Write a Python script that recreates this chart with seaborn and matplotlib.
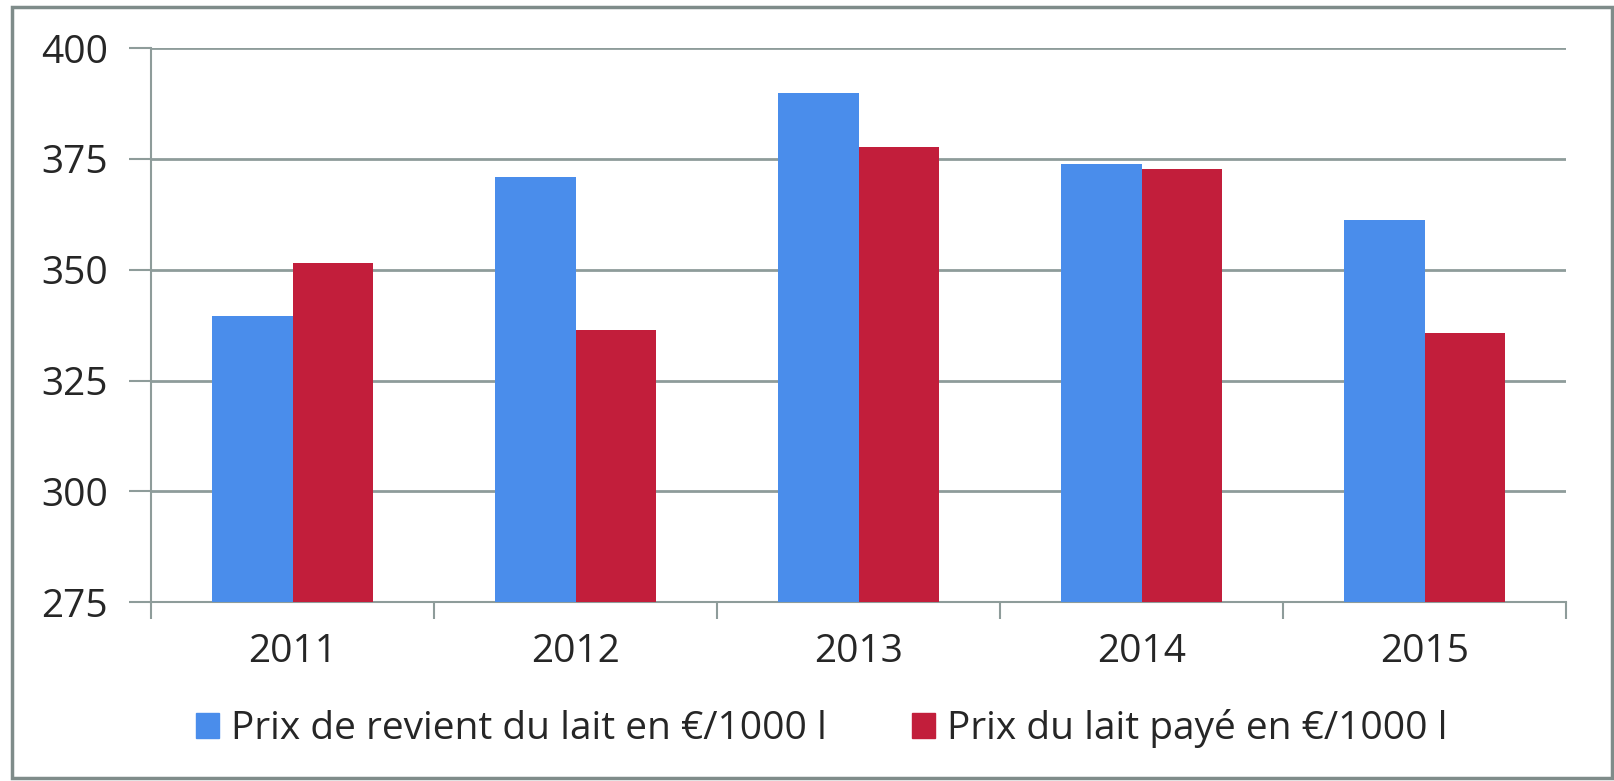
"""
Prix de revient vs prix payé du lait (2011-2015), grouped bar chart.
"""

import numpy as np
import pandas as pd
import matplotlib.pyplot as plt
import matplotlib.patches as mpatches
import seaborn as sns


years   = ["2011", "2012", "2013", "2014", "2015"]
revient = [339.5, 371.0, 389.8, 373.9, 361.2]
paye    = [351.5, 336.5, 377.7, 372.7, 335.8]

label_revient = "Prix de revient du lait en €/1000 l"
label_paye    = "Prix du lait payé en €/1000 l"

y_ticks = [275, 300, 325, 350, 375, 400]

_BLUE = "#4A8DEB"
_RED  = "#C21E3B"
_GRID = "#8E9C9A"
_FS   = 28

sns.set_theme(style="white")
plt.rcParams["font.family"] = ["Open Sans", "DejaVu Sans"]

df = pd.DataFrame({
    "year":   years * 2,
    "value":  revient + paye,
    "series": [label_revient] * len(years) + [label_paye] * len(years),
})

fig = plt.figure(figsize=(16.14, 7.81), dpi=100)
ax = fig.add_axes([0.0936, 0.229, 0.8767, 0.7095])

sns.barplot(
    data=df, x="year", y="value", hue="series",
    palette=[_BLUE, _RED], width=0.57, saturation=1,
    ax=ax, legend=False, zorder=3, linewidth=0,
)

ax.set_ylim(275, 400)
ax.set_xlim(-0.5, len(years) - 0.5)
ax.set_yticks(y_ticks)
ax.yaxis.grid(True, color=_GRID, linewidth=2, zorder=0)
ax.set_xlabel("")
ax.set_ylabel("")

for side in ("top", "right"):
    ax.spines[side].set_visible(False)
for side in ("left", "bottom"):
    ax.spines[side].set_color(_GRID)
    ax.spines[side].set_linewidth(1.5)

# category separators as minor ticks, no ticks at label centres
ax.set_xticks(np.arange(-0.5, len(years), 1.0), minor=True)
ax.tick_params(axis="x", which="major", length=0, pad=22, labelsize=_FS)
ax.tick_params(axis="x", which="minor", length=12, width=1.5, color=_GRID,
               direction="out", bottom=True)
ax.tick_params(axis="y", length=16, width=1.5, color=_GRID, pad=15,
               labelsize=_FS, left=True)

handles = [
    mpatches.Patch(color=_BLUE, label=label_revient),
    mpatches.Patch(color=_RED, label=label_paye),
]
fig.legend(
    handles=handles, loc="center", bbox_to_anchor=(0.509, 0.067),
    ncol=2, frameon=False, fontsize=_FS, handlelength=0.6,
    handleheight=0.6, handletextpad=0.3, columnspacing=2.2,
)

# outer frame around the chart
fig.patches.append(mpatches.Rectangle(
    (0.0075, 0.004), 0.991, 0.987, transform=fig.transFigure,
    fill=False, edgecolor="#7F8C8A", linewidth=2.5,
))

fig.savefig("out.png", dpi=100)
plt.close(fig)
